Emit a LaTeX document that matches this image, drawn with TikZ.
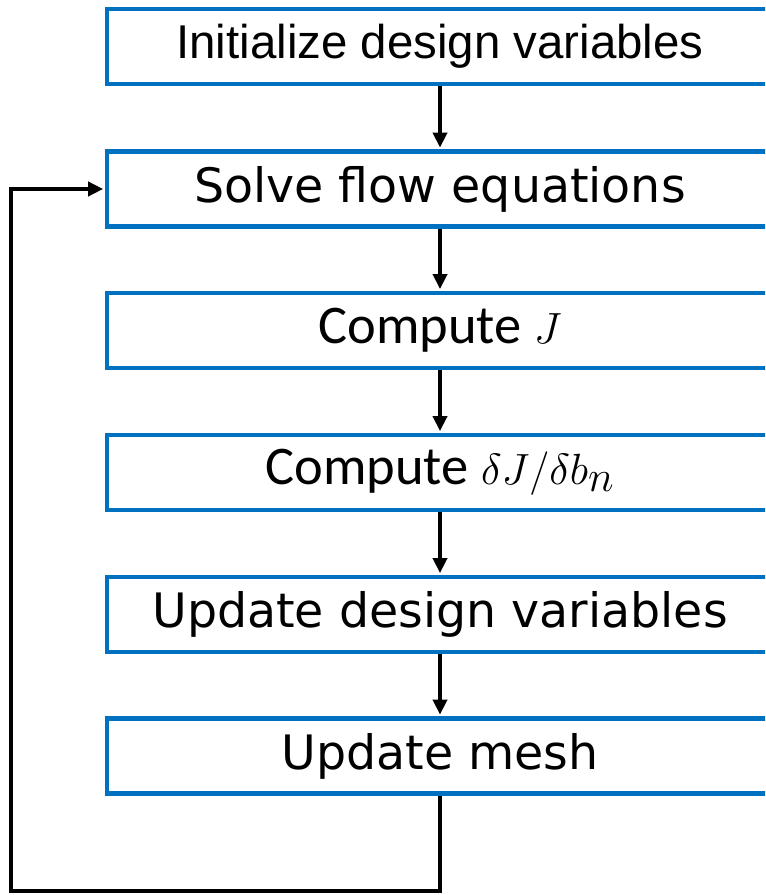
\documentclass[tikz,border=0pt]{standalone}
\usepackage{fontspec}
\usepackage{amsmath}
\usetikzlibrary{arrows.meta}
\newfontfamily\arialfont{Liberation Sans}
\newfontfamily\dejafont{DejaVu Sans}
\newfontfamily\calfont{Carlito}
\definecolor{boxblue}{RGB}{0, 112, 192}
\tikzset{>={Triangle[length=8.5pt, width=8pt]}}
\tikzset{
    stepbox/.style={draw=boxblue, line width=2.3pt, fill=white, minimum width=13.32cm, minimum height=1.5cm, inner sep=0pt}, % flow chart box
    flowarrow/.style={->, line width=2pt, shorten >=1.1pt}
}

\begin{document}
\begin{tikzpicture}[x=0.02cm, y=-0.02cm]
    \useasboundingbox (0,0) rectangle (765,895);
    \clip (0,0) rectangle (765,895);

    \node[stepbox, font=\arialfont\fontsize{27}{32}\selectfont] (init) at (440,46.5) {Initialize design variables};
    \node[stepbox, font=\dejafont\fontsize{27}{32}\selectfont] (solve) at (440,189) {Solve flow equations};
    \node[stepbox, font=\calfont\fontsize{31}{36}\selectfont] (compJ) at (440,330.5) {Compute $J$};
    \node[stepbox, font=\calfont\fontsize{31}{36}\selectfont] (compGrad) at (440,472.5) {Compute {\fontsize{34}{38}\selectfont$\delta J/\delta b_n$}};
    \node[stepbox, font=\dejafont\fontsize{27}{32}\selectfont] (updVar) at (440,614.5) {Update design variables};
    \node[stepbox, font=\dejafont\fontsize{27}{32}\selectfont] (updMesh) at (440,756) {Update mesh};

    \draw[flowarrow] (init) -- (solve);
    \draw[flowarrow] (solve) -- (compJ);
    \draw[flowarrow] (compJ) -- (compGrad);
    \draw[flowarrow] (compGrad) -- (updVar);
    \draw[flowarrow] (updVar) -- (updMesh);

    % loop back to the flow solver
    \coordinate (loopcorner) at (11,891);
    \draw[flowarrow] (updMesh.south) |- (loopcorner) |- (solve.west);
\end{tikzpicture}
\end{document}
